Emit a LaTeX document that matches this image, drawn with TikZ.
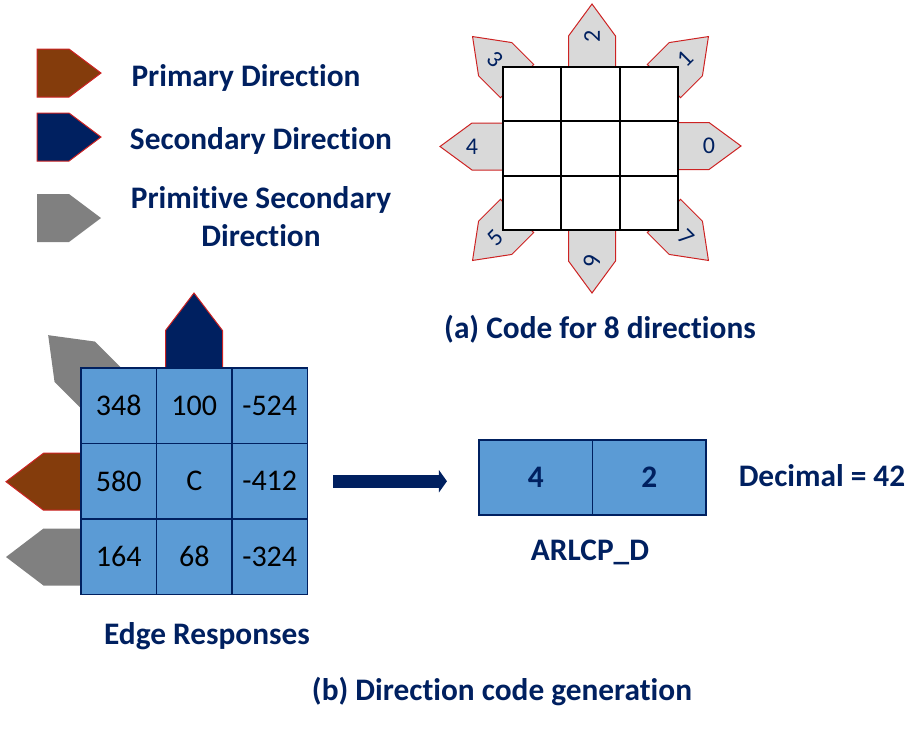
\documentclass[tikz,border=0pt]{standalone}
\usepackage{fontspec}
\setmainfont{Carlito}[RawFeature=-liga]
\usetikzlibrary{positioning,arrows.meta}
\definecolor{navy}{RGB}{0,32,96}
\definecolor{cellblue}{RGB}{91,155,213}
\definecolor{brownarr}{RGB}{132,60,12}
\definecolor{arrred}{RGB}{205,35,35}
\definecolor{arrgray}{RGB}{217,217,217}
\definecolor{darkgrayarr}{RGB}{128,128,128}
%% pentagon arrow: [style]{base}{angle}{length}{half height}{shoulder}
\newcommand{\pentarrow}[6][]{%
  \path[#1, shift={(#2)}, rotate=#3] (0,-#5) -- (#6,-#5) -- (#4,0) -- (#6,#5) -- (0,#5) -- cycle;}

\begin{document}
\begin{tikzpicture}[x=0.75pt, y=-0.75pt,
  lbl/.style={text=navy, font=\fontsize{23.5}{28.5}\selectfont\bfseries, inner sep=0pt},
  num/.style={font=\fontsize{22.5}{27}\selectfont},
  dirnum/.style={text=navy, font=\fontsize{18}{21}\selectfont, inner sep=0pt},
  cell/.style={draw=navy, fill=cellblue, line width=1.1pt, minimum width=56.6pt,
    minimum height=56.6pt, inner sep=0pt, outer sep=0pt},
  wcell/.style={draw=black, fill=white, line width=1.5pt, minimum width=43.75pt,
    minimum height=40.75pt, inner sep=0pt, outer sep=0pt},
  dirarr/.style={fill=arrgray, draw=arrred, line width=0.75pt},
  bigarrow/.style={draw=navy, line width=9.5pt, -{Triangle[length=6pt, width=16.5pt]}}]

  \useasboundingbox (0,0) rectangle (924,729);

  %% legend
  \pentarrow[fill=brownarr, draw=arrred, line width=0.75pt]{37,73}{0}{64}{24}{32}
  \pentarrow[fill=navy, draw=arrred, line width=0.75pt]{37,137}{0}{64}{24}{32}
  \pentarrow[fill=darkgrayarr]{37,218}{0}{64}{24}{32}
  \node[lbl] (leg1) at (246,78) {Primary Direction};
  \node[lbl] (leg2) at (261,141) {Secondary Direction};
  \node[lbl, align=center] (leg3) at (261,217) {Primitive Secondary\\Direction};

  %% (a) code for 8 directions
  \foreach \px/\py/\ang/\lab/\tang in {678/146/0/0/0, 663.9/81.1/45/1/45,
      592/67/90/2/90, 517.1/81.1/135/3/-45, 503/146.5/180/4/0,
      517.1/215.9/225/5/45, 592/230/270/6/-90, 663.9/215.9/315/7/-45}{
    \pentarrow[dirarr]{\px,\py}{\ang}{63}{23.5}{31}
    \path[shift={(\px,\py)}, rotate=\ang] (31,0) node[dirnum, rotate=\tang] (d\lab) {\lab};
  }
  \foreach \r in {1,2,3}
    \foreach \c in {1,2,3}
      \node[wcell] (g\r\c) at ({503+58.33*(\c-0.5)},{67+54.33*(\r-0.5)}) {};
  \node[lbl] (capa) at (600,329) {(a) Code for 8 directions};

  %% (b) direction code generation
  \pentarrow[fill=navy, draw=arrred, line width=0.75pt]{194,368}{90}{75}{28.5}{37.5}
  \pentarrow[fill=brownarr, draw=arrred, line width=0.75pt]{81,481.7}{180}{75}{28.5}{37.5}
  \pentarrow[fill=darkgrayarr]{81,557}{180}{75}{28.5}{37.5}
  \pentarrow[fill=darkgrayarr]{101.2,388.2}{135}{75}{28.5}{37.5}
  \foreach \r/\c/\v in {1/1/348, 1/2/100, 1/3/-524, 2/1/580, 2/2/C, 2/3/-412,
      3/1/164, 3/2/68, 3/3/-324}
    \node[cell, num] (e\r\c) at ({81+75.5*(\c-0.5)},{368+75.5*(\r-0.5)}) {\v};
  \node[lbl] (edge) at (207,636) {Edge Responses};

  \node[cell, lbl, minimum width=85.2pt, minimum height=56.3pt] (code1) at (535.75,477.5) {4};
  \node[cell, lbl, minimum width=85.2pt, minimum height=56.3pt, right=0pt of code1] (code2) {2};
  \draw[bigarrow, shorten <=19.5pt, shorten >=24pt] (e23.east) -- (e23.east -| code1.west);

  \node[lbl] (dec) at (822,476) {Decimal = 42};
  \node[lbl] (arl) at (590,552) {ARLCP\_D};
  \node[lbl] (capb) at (502,692) {(b) Direction code generation};
\end{tikzpicture}
\end{document}
